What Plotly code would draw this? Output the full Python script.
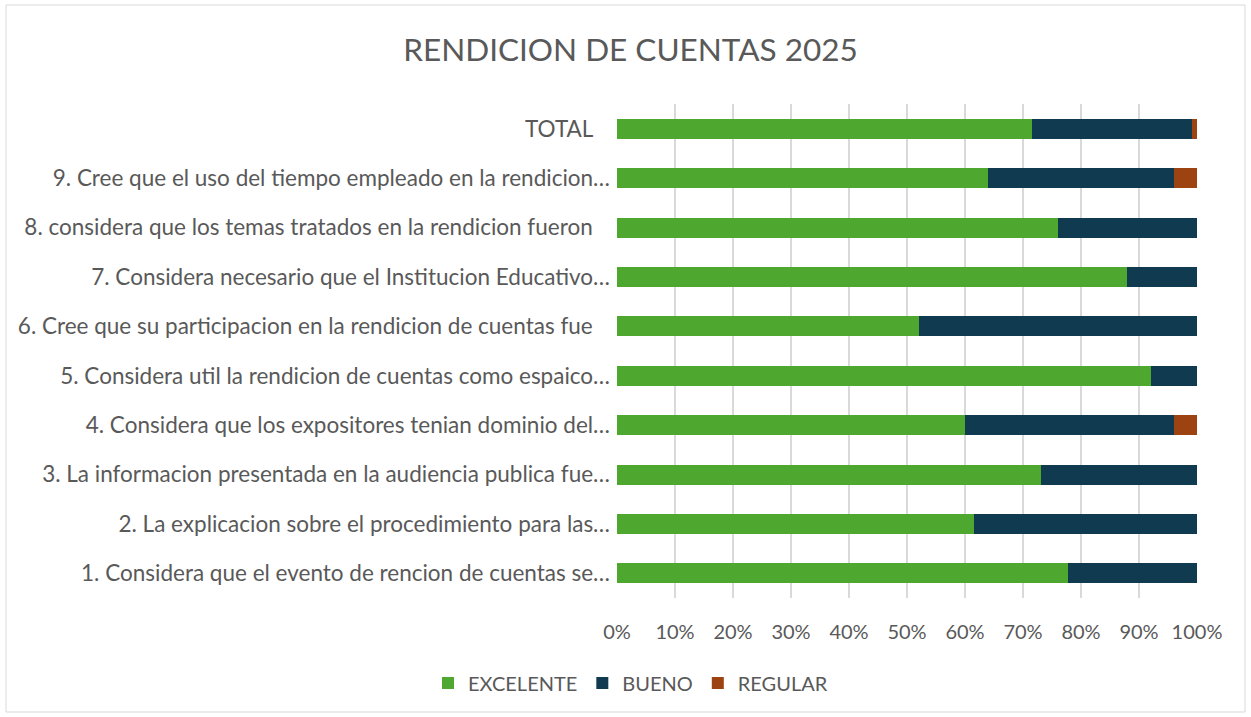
import plotly.graph_objects as go

NB = "\u00a0\u00a0\u00a0"
categories = [
    "1. Considera que el evento de rencion de cuentas se…",
    "2. La explicacion sobre el procedimiento para las…",
    "3. La informacion presentada en la audiencia publica fue…",
    "4. Considera que los expositores tenian dominio del…",
    "5. Considera util la rendicion de cuentas como espaico…",
    "6. Cree que su participacion en la rendicion de cuentas fue" + NB,
    "7. Considera necesario que el Institucion Educativo…",
    "8. considera que los temas tratados en la rendicion fueron" + NB,
    "9. Cree que el uso del tiempo empleado en la rendicion…",
    "TOTAL" + NB,
]
excelente = [77.8, 61.5, 73.1, 60.0, 92.0, 52.0, 88.0, 76.0, 64.0, 71.6]
bueno = [22.2, 38.5, 26.9, 36.0, 8.0, 48.0, 12.0, 24.0, 32.0, 27.5]
regular = [0.0, 0.0, 0.0, 4.0, 0.0, 0.0, 0.0, 0.0, 4.0, 0.9]
series_names = ["EXCELENTE", "BUENO", "REGULAR"]
colors = ["#4EA72E", "#0F3A50", "#9C4311"]
x_ticks = [0, 10, 20, 30, 40, 50, 60, 70, 80, 90, 100]
x_tick_labels = [f"{v}%" for v in x_ticks]

W, H = 1251, 717
L, R, T, B = 617, 54, 104, 119
FONT = "Lato"
GREY = "#595959"

fig = go.Figure()
for name, vals, col in zip(series_names, [excelente, bueno, regular], colors):
    fig.add_trace(go.Bar(y=categories, x=vals, name=name, orientation="h",
                         marker=dict(color=col, line=dict(width=0))))

pw, ph = W - L - R, H - T - B
def px_x(p):
    return (p - L) / pw
def px_y(p):
    return (H - B - p) / ph

fig.update_layout(
    width=W, height=H,
    margin=dict(l=L, r=R, t=T, b=B),
    barmode="stack", bargap=0.595,
    paper_bgcolor="white", plot_bgcolor="white",
    font=dict(family=FONT, color=GREY, size=20),
    title=dict(text="RENDICION DE CUENTAS 2025", x=0.504, xref="container",
               xanchor="center", y=1 - 50 / H, yref="container", yanchor="middle",
               font=dict(size=31.5, color=GREY, family=FONT)),
    xaxis=dict(range=[0, 100], tickvals=x_ticks, ticktext=x_tick_labels,
               showgrid=True, gridcolor="#D9D9D9", gridwidth=2,
               zeroline=False, showline=False, ticks="",
               ticklabelstandoff=20, tickfont=dict(size=20, color=GREY)),
    yaxis=dict(showgrid=False, zeroline=False, showline=False, ticks="",
               ticklabelstandoff=6, tickfont=dict(size=22.5, color=GREY)),
    legend=dict(orientation="h", xref="container", x=0.504, xanchor="center",
                yref="container", y=1 - 683 / H, yanchor="middle",
                font=dict(size=20, color=GREY), traceorder="normal"),
    showlegend=True,
    shapes=[dict(type="rect", xref="paper", yref="paper",
                 x0=px_x(6), x1=px_x(1245), y0=px_y(712), y1=px_y(5),
                 line=dict(color="#D9D9D9", width=1), fillcolor="rgba(0,0,0,0)",
                 layer="below")],
)

fig.write_html("out.html", config={"displayModeBar": False},
               post_script="document.body.style.margin='0';")
